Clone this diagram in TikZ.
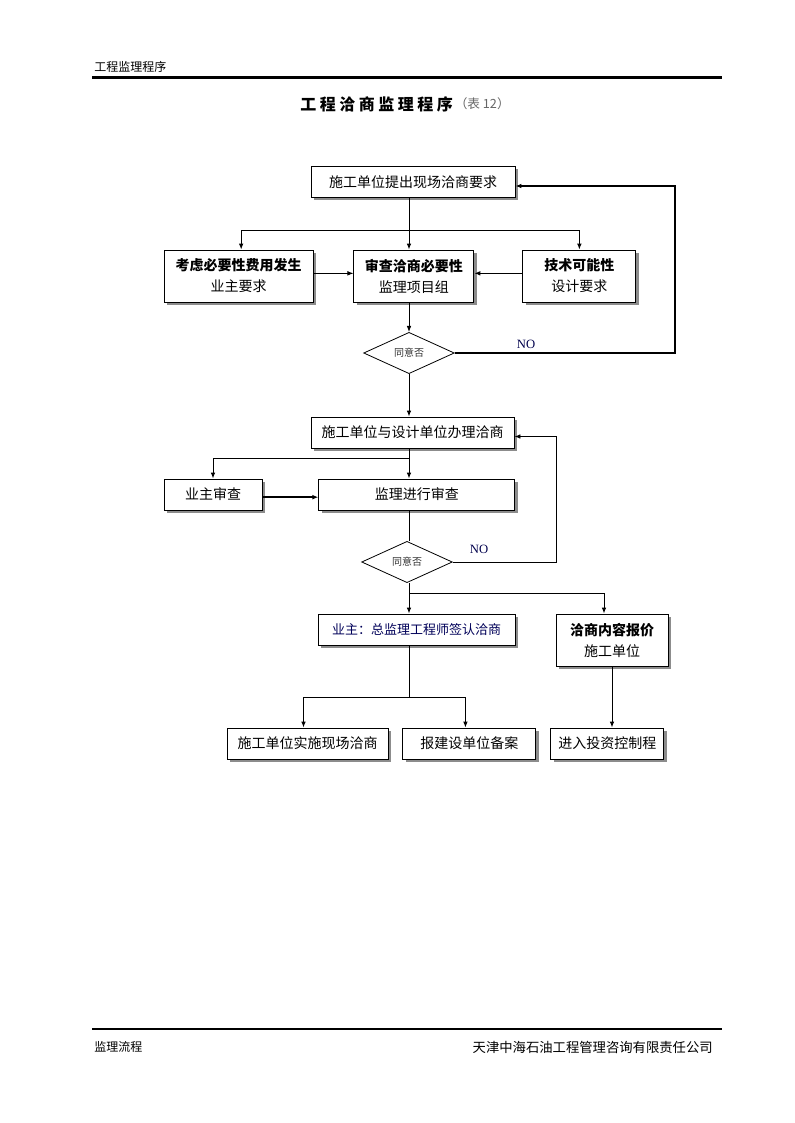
\documentclass[tikz,border=0pt]{standalone}
\usepackage{fontspec}
\usepackage{tikz}
\usetikzlibrary{arrows.meta, positioning, shapes.geometric, shadows}
\setmainfont{Noto Sans CJK SC}
\newfontfamily\latinserif{Liberation Serif}
\newfontfamily\titlefont{Noto Sans CJK SC}[LetterSpace=22]
\usepackage{xcolor}
\tikzset{%
	proc box/.style={
		draw,
		fill=white,
		line width=0.7pt,
		align=center,
		inner sep=0pt,
		minimum height=23.25pt,
		font=\fontsize{10.5}{15.75}\selectfont,
		drop shadow={shadow xshift=2.2pt, shadow yshift=-2.2pt, fill=black!45, opacity=1}
	},
	tall box/.style={
		proc box,
		minimum height=39pt
	},
	decision/.style={
		diamond,
		draw,
		line width=0.6pt,
		inner sep=0pt,
		minimum width=68pt,
		minimum height=31pt,
		font=\fontsize{7.5}{9}\selectfont,
		text=black!80
	},
	link/.style={line width=0.7pt},
	link arrow/.style={link, -{Latex[length=4.5pt, width=3.5pt]}},
	no label/.style={font=\latinserif\fontsize{9.5}{11}\selectfont, text=black!70!blue}
}

\begin{document}
\begin{tikzpicture}[x=0.75pt, y=-0.75pt]
	\useasboundingbox (0,0) rectangle (794,1123);
	
	% page header and footer
	\node[anchor=west, font=\fontsize{9}{11}\selectfont, inner sep=0pt] (head) at (94,67) {工程监理程序};
	\draw[line width=2pt] (92,77.5) -- (722,77.5);
	\draw[line width=1.6pt] (92,1029) -- (722,1029);
	\node[anchor=west, font=\fontsize{9}{11}\selectfont, inner sep=0pt] (footl) at (94,1047) {监理流程};
	\node[anchor=east, font=\fontsize{10}{12}\selectfont, inner sep=0pt] (footr) at (713,1047) {天津中海石油工程管理咨询有限责任公司};
	
	% title
	\node[anchor=west, inner sep=0pt, font=\titlefont\bfseries\fontsize{12}{14}\selectfont] (title) at (300,104) {工程洽商监理程序};
	\node[anchor=west, inner sep=0pt, font=\fontsize{9.5}{11}\selectfont, text=black!60, right=1pt of title] (tabno) {（表 12）};
	
	% main axis and junctions
	\coordinate (axis) at (409,0);
	\coordinate (j1) at (409,230);
	\coordinate (j2) at (409,458);
	\coordinate (j3) at (409,593);
	\coordinate (j4) at (409,697);
	\coordinate (r1) at (675,0);
	\coordinate (r2) at (556,0);
	
	% first stage
	\node[proc box, minimum width=153pt] (req) at (413,182) {施工单位提出现场洽商要求};
	\node[tall box, minimum width=111.75pt] (cost) at (238.5,276) {\textbf{考虑必要性费用发生}\\业主要求};
	\node[tall box, minimum width=90pt, right=30pt of cost] (need) {\textbf{审查洽商必要性}\\监理项目组};
	\node[tall box, minimum width=84.75pt, right=36pt of need] (tech) {\textbf{技术可能性}\\设计要求};
	\node[decision] (ask1) at (409,353) {同意否};
	\node[no label] (no1) at (526,344) {NO};
	
	% second stage
	\node[proc box, minimum width=152.25pt] (deal) at (412.5,432.5) {施工单位与设计单位办理洽商};
	\node[proc box, minimum width=73.5pt] (owner) at (213,494.5) {业主审查};
	\node[proc box, minimum width=147pt, right=42pt of owner] (check) {监理进行审查};
	\node[decision] (ask2) at (407,562) {同意否};
	\node[no label] (no2) at (479,549) {NO};
	
	% third stage
	\node[proc box, minimum width=147.75pt, font=\fontsize{9.75}{12}\selectfont, text=blue!35!black] (sign) at (416.5,629.5) {业主：总监理工程师签认洽商};
	\node[tall box, minimum width=84pt] (quote) at (612,640) {\textbf{洽商内容报价}\\施工单位};
	\node[proc box, minimum width=120.75pt] (site) at (307.5,743.5) {施工单位实施现场洽商};
	\node[proc box, minimum width=99.75pt, right=10.5pt of site] (file) {报建设单位备案};
	\node[proc box, minimum width=84.75pt, right=10.5pt of file] (invest) {进入投资控制程};
	
	% connectors, first stage
	\draw[link arrow] (req.south -| axis) -- (need.north -| axis);
	\draw[link arrow] (j1) -| ([xshift=2pt]cost.north);
	\draw[link arrow] (j1) -| (tech.north);
	\draw[link arrow] ([yshift=2pt]cost.east) -- ([yshift=2pt]need.west);
	\draw[link arrow] ([yshift=2pt]tech.west) -- ([yshift=2pt]need.east);
	\draw[link arrow] (need.south -| axis) -- (ask1.north);
	\draw[line width=1.1pt, -{Latex[length=4.5pt, width=3.5pt]}] (ask1.east) -- (ask1.east -| r1) |- ([yshift=-3pt]req.east);
	
	% connectors, second stage
	\draw[link arrow] (ask1.south) -- (deal.north -| axis);
	\draw[link arrow] (deal.south -| axis) -- (check.north -| axis);
	\draw[link arrow] (j2) -| (owner.north);
	\draw[line width=1.6pt, -{Latex[length=4.5pt, width=3.5pt]}] ([yshift=-2pt]owner.east) -- ([yshift=-2pt]check.west);
	\draw[link] (check.south -| axis) -- (ask2.north -| axis);
	\draw[link arrow] (ask2.east) -- (ask2.east -| r2) |- ([yshift=-3pt]deal.east);
	
	% connectors, third stage
	\draw[link arrow] (ask2.south -| axis) -- (sign.north -| axis);
	\draw[link arrow] (j3) -| ([xshift=-6pt]quote.north);
	\draw[link] (sign.south -| axis) -- (j4);
	\draw[link arrow] (j4) -| ([xshift=-3pt]site.north);
	\draw[link arrow] (j4) -| ([xshift=-3pt]file.north);
	\draw[link arrow] (quote.south) -- (quote.south |- invest.north);
\end{tikzpicture}
\end{document}
